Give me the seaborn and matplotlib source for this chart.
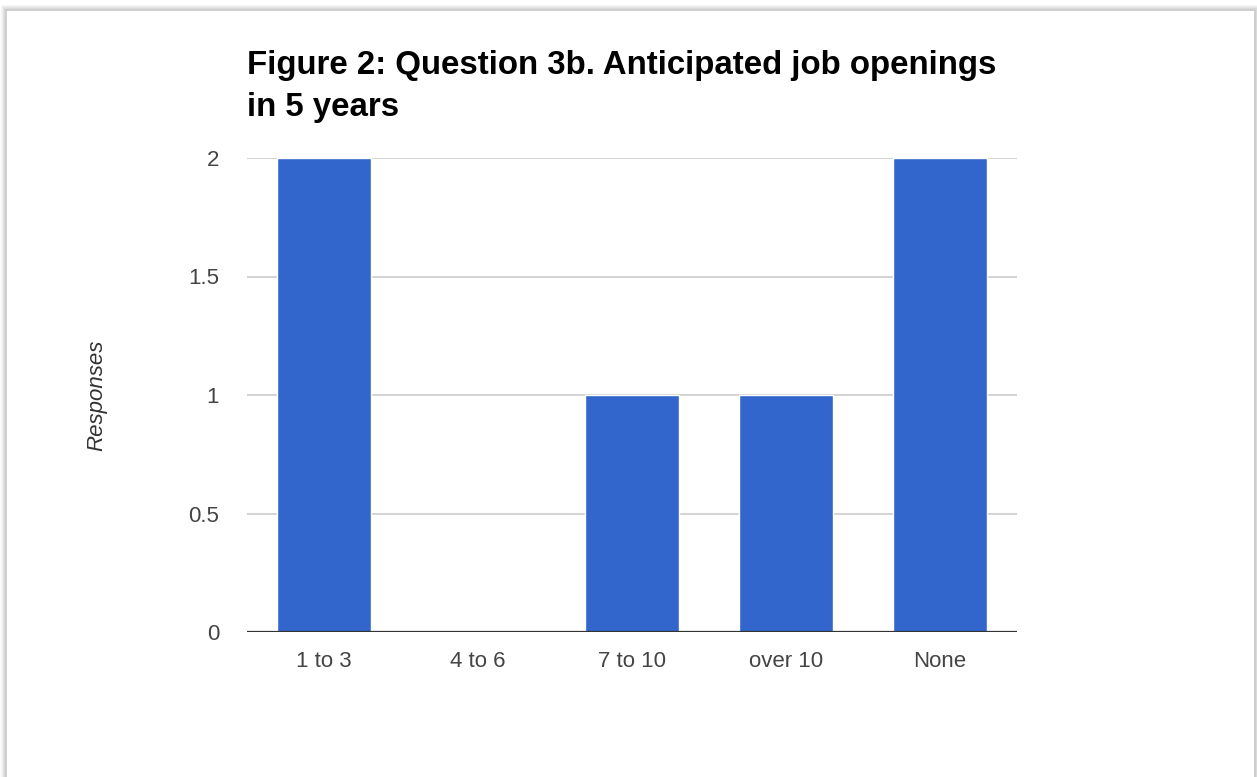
import matplotlib
matplotlib.use("Agg")
import matplotlib.pyplot as plt
import seaborn as sns
import pandas as pd
from matplotlib.patches import Rectangle

categories = ["1 to 3", "4 to 6", "7 to 10", "over 10", "None"]
responses = [2, 0, 1, 1, 2]
y_ticks = [0, 0.5, 1, 1.5, 2]
y_tick_labels = ["0", "0.5", "1", "1.5", "2"]
title = "Figure 2: Question 3b. Anticipated job openings\nin 5 years"
y_title = "Responses"

sns.set_theme(style="white")
plt.rcParams["font.family"] = ["Liberation Sans", "DejaVu Sans"]

W, H = 1257, 777
fig = plt.figure(figsize=(W / 100, H / 100), dpi=100)
fig.patch.set_facecolor("white")

# card with a soft shadow, kept behind the axes
for i, a in enumerate([0.05, 0.08, 0.12, 0.18]):
    off = 4 - i
    fig.patches.append(Rectangle((6 - off, -20), (1249 + 2 * off), (767 + off + 20),
                                 transform=None, facecolor="none",
                                 edgecolor=(0.5, 0.5, 0.5, a), linewidth=1.5,
                                 zorder=-10))
fig.patches.append(Rectangle((6, -20), 1249, 787, transform=None,
                             facecolor="white", edgecolor="#c8c8c8", linewidth=1.2,
                             zorder=-9))

ax = fig.add_axes([247 / W, (H - 632) / H, 770 / W, 474 / H])
ax.set_facecolor("none")

df = pd.DataFrame({"cat": categories, "val": responses})
sns.barplot(data=df, x="cat", y="val", color="#3366cc", saturation=1,
            width=0.61, ax=ax, zorder=3)

ax.set_xlim(-0.5, len(categories) - 0.5)
ax.set_ylim(0, 2)
ax.set_yticks(y_ticks)
ax.set_yticklabels(y_tick_labels)
for y in y_ticks[1:]:
    ax.axhline(y, color="#cccccc", linewidth=1.2, zorder=1)
ax.axhline(0, color="#333333", linewidth=1.6, zorder=4)

for s in ax.spines.values():
    s.set_visible(False)
ax.tick_params(axis="both", length=0, labelsize=16, colors="#444444")
ax.tick_params(axis="y", pad=20)
ax.tick_params(axis="x", pad=14)
ax.set_xlabel("")
ax.set_ylabel(y_title, fontsize=16, color="#333333", style="italic")
ax.yaxis.set_label_coords(-(247 - 107) / 770, 0.5)

fig.text(247 / W, 1 - 50 / H, title, fontsize=23.8, fontweight="bold",
         color="black", ha="left", va="top", linespacing=1.47)

fig.savefig("out.png", dpi=100)
